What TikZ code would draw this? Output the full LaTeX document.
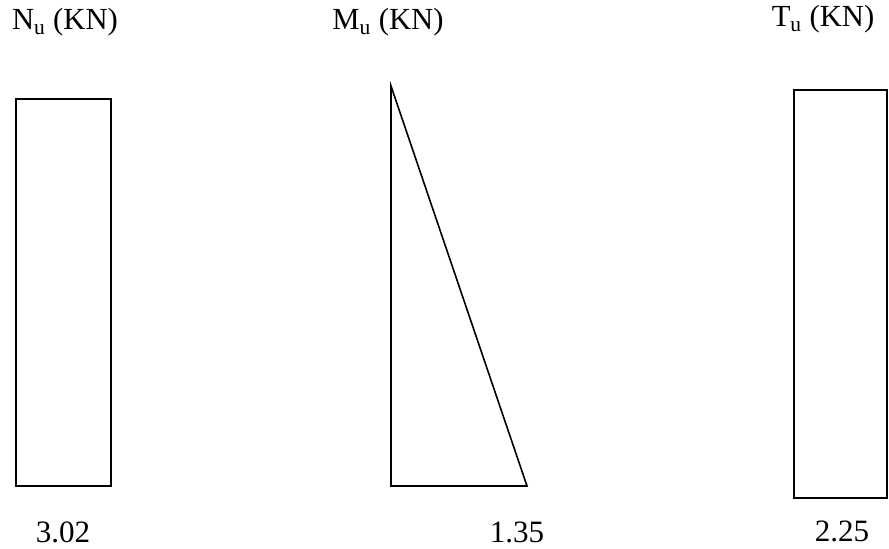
\documentclass[tikz,border=0pt]{standalone}
\usepackage{fontspec}
\setmainfont{Liberation Serif}
\usepackage{xcolor}

\tikzset{
  diag/.style={line width=1.2pt, line join=miter},
  headlabel/.style={inner sep=0.75pt, font=\fontsize{23}{26}\selectfont},
  vallabel/.style={inner sep=0.75pt, font=\fontsize{23.3}{27}\selectfont}
}

\begin{document}
\begin{tikzpicture}[x=0.75pt,y=0.75pt,yscale=-1,xscale=1]
		\useasboundingbox (0,0) rectangle (889,549);
		
		%Shape: Rectangle [N]
		\draw [diag]  (16,99) -- (111,99) -- (111,486) -- (16,486) -- cycle ;
		%Shape: Right Triangle [M]
		\draw [diag]  (391,86) -- (527,486) -- (391,486) -- cycle ;
		%Shape: Rectangle [T]
		\draw [diag]  (794,90) -- (887,90) -- (887,498) -- (794,498) -- cycle ;
		
		% Text Node
		\node [headlabel] (lblN) at (65,22) {N\textsubscript{u} (KN)};
		% Text Node
		\node [headlabel] (lblM) at (388,22) {M\textsubscript{u} (KN)};
		% Text Node
		\node [headlabel] (lblT) at (823,19) {T\textsubscript{u} (KN)};
		% Text Node
		\node [vallabel] (valN) at (63,532) {3.02};
		% Text Node
		\node [vallabel] (valM) at (517,532) {1.35};
		% Text Node
		\node [vallabel] (valT) at (842,531) {2.25};
		
	\end{tikzpicture}
\end{document}
